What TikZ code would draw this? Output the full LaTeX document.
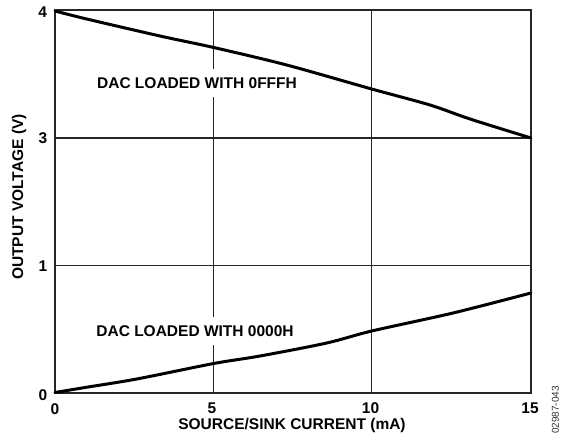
\documentclass[tikz,border=0pt]{standalone}
\usepackage{fontspec}
\setmainfont{Liberation Sans}
\begin{document}
\begin{tikzpicture}[x=1pt,y=-1pt,
  lbl/.style={font=\bfseries\fontsize{15.5}{18}\selectfont, inner sep=0pt},
  grid line/.style={line width=1.2pt, black!85},
  frame line/.style={line width=1.6pt, black!85},
  curve/.style={line width=3pt, line join=round, line cap=round},
  inlabel/.style={lbl, fill=white, text height=11.5pt, text depth=0pt, inner ysep=8.5pt, inner xsep=6pt}]
\useasboundingbox (0,0) rectangle (562,442);
% grid
\draw[grid line] (213.7,10) -- (213.7,393);
\draw[grid line] (371.7,10) -- (371.7,393);
\draw[grid line] (55,138) -- (531,138);
\draw[grid line] (55,265.5) -- (531,265.5);
\draw[frame line] (55,10) rectangle (531,393);
% labels in plot
\node[inlabel] (lblF) at (197,83) {DAC LOADED WITH 0FFFH};
\node[inlabel] (lbl0) at (195,331) {DAC LOADED WITH 0000H};
% curves
\draw[curve] plot[smooth, tension=0.5] coordinates {(55,11) (86.7,19) (160,36) (213.7,47.5) (286.7,65) (371.7,89) (430,105) (470,119) (531,138)};
\draw[curve] plot[smooth, tension=0.5] coordinates {(55,392.5) (85,387.5) (136.7,379) (213.7,363.5) (260,356) (326.7,343) (371.7,331) (453,313) (531,293)};
% y ticks
\node[lbl] (y4) at (42.7,12) {4};
\node[lbl] (y3) at (43,138.5) {3};
\node[lbl] (y1) at (43,266) {1};
\node[lbl] (y0) at (43,395) {0};
% x ticks
\node[lbl] (x0) at (55,409) {0};
\node[lbl] (x5) at (212,408.5) {5};
\node[lbl] (x10) at (370.5,408.5) {10};
\node[lbl] (x15) at (530,408.5) {15};
% titles
\node[lbl, rotate=90] (ytitle) at (19,197) {OUTPUT VOLTAGE (V)};
\node[lbl] (xtitle) at (292,425) {SOURCE/SINK CURRENT (mA)};
\node[font=\fontsize{10}{12}\selectfont, inner sep=0pt, rotate=90, text=black!80] (code) at (555.5,410) {02987-043};
\end{tikzpicture}
\end{document}
